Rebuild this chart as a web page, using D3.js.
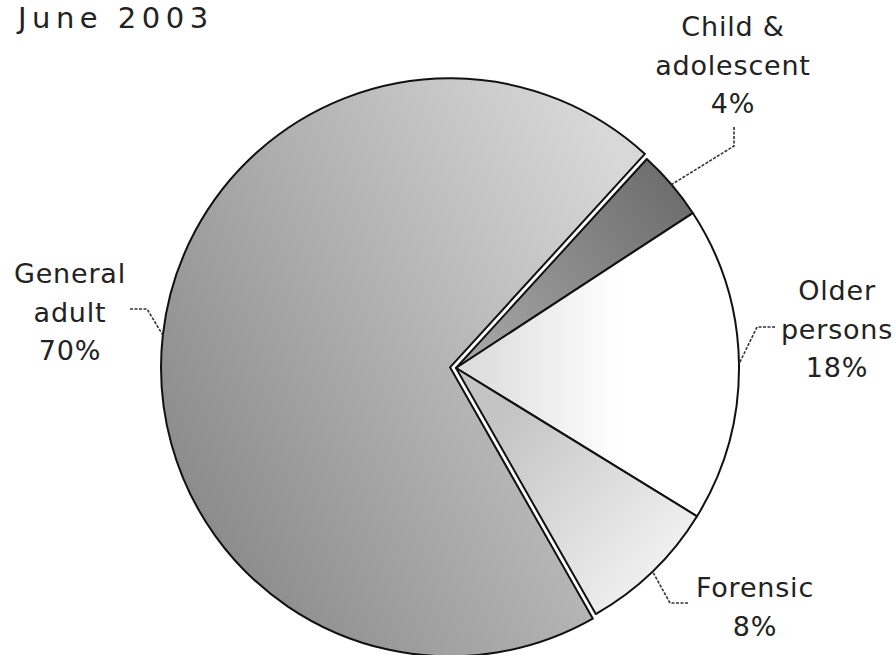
<!DOCTYPE html>
<html>
<head>
<meta charset="utf-8">
<script src="https://cdn.jsdelivr.net/npm/d3@7/dist/d3.min.js"></script>
<style>
  html, body { margin: 0; padding: 0; background: #fff; }
  svg { display: block; }
  text { font-family: "DejaVu Sans", "Liberation Sans", sans-serif; fill: #222; }
</style>
</head>
<body>
<svg id="chart" width="895" height="655"></svg>
<script>
// Staff distribution by speciality, June 2003
const categories = ["Child & adolescent", "Older persons", "Forensic", "General adult"];
const labelLines = [["Child &", "adolescent"], ["Older", "persons"], ["Forensic"], ["General", "adult"]];
const values = [4, 18, 8, 70];
const title = "June 2003";

const W = 895, H = 655;
const cx = 456, cy = 368;          // pie centre
const radius = 283;
const explodedRadius = 289;        // the large slice is pulled out a little
const explodeOffset = 6;

const svg = d3.select("#chart");

const pie = d3.pie()
  .sort(null)
  .value(d => d)
  .startAngle(42.4 * Math.PI / 180)
  .endAngle(42.4 * Math.PI / 180 + 2 * Math.PI);

const arcs = pie(values);

function sliceCentre(d, i) {
  if (i !== 3) return [cx, cy];
  const mid = (d.startAngle + d.endAngle) / 2;
  return [cx + explodeOffset * Math.sin(mid), cy - explodeOffset * Math.cos(mid)];
}

// gradient fills for each slice (page coordinates)
const fills = [
  { x1: 690, y1: 190, x2: 480, y2: 350, stops: ["#6c6c6c", "#a4a4a4"] },
  { x1: 480, y1: 368, x2: 620, y2: 368, stops: ["#dedede", "#ffffff"] },
  { x1: 500, y1: 420, x2: 690, y2: 580, stops: ["#c4c4c4", "#f6f6f6"] },
  { x1: 170, y1: 460, x2: 640, y2: 200, stops: ["#8c8c8c", "#d8d8d8"] }
];
const defs = svg.append("defs");
fills.forEach((f, i) => {
  const c = sliceCentre(arcs[i], i);
  const g = defs.append("linearGradient")
    .attr("id", "grad" + i)
    .attr("gradientUnits", "userSpaceOnUse")
    .attr("x1", f.x1 - c[0]).attr("y1", f.y1 - c[1])
    .attr("x2", f.x2 - c[0]).attr("y2", f.y2 - c[1]);
  g.append("stop").attr("offset", "0%").attr("stop-color", f.stops[0]);
  g.append("stop").attr("offset", "100%").attr("stop-color", f.stops[1]);
});

const arcNormal = d3.arc().innerRadius(0).outerRadius(radius);
const arcBig = d3.arc().innerRadius(0).outerRadius(explodedRadius);

svg.append("g").selectAll("path")
  .data(arcs)
  .join("path")
  .attr("transform", (d, i) => {
    const c = sliceCentre(d, i);
    return `translate(${c[0]},${c[1]})`;
  })
  .attr("d", (d, i) => (i === 3 ? arcBig(d) : arcNormal(d)))
  .attr("fill", (d, i) => `url(#grad${i})`)
  .attr("stroke", "#111")
  .attr("stroke-width", 2)
  .attr("stroke-linejoin", "round");

// label blocks: anchor point of the text block and the elbow of its leader line
const labelPos = [
  { x: 733, y: 36, elbow: [[734, 127], [734, 146]] },
  { x: 837, y: 300, elbow: [[775, 327], [757, 327]] },
  { x: 755, y: 597, elbow: [[688, 603], [670, 603]] },
  { x: 70, y: 283, elbow: [[130, 309], [147, 309]] }
];
const lineGap = 38.5;

arcs.forEach((d, i) => {
  const c = sliceCentre(d, i);
  const r = i === 3 ? explodedRadius : radius;
  const mid = (d.startAngle + d.endAngle) / 2;
  const edge = [c[0] + r * Math.sin(mid), c[1] - r * Math.cos(mid)];
  const p = labelPos[i];

  svg.append("path")
    .attr("d", d3.line()([p.elbow[0], p.elbow[1], edge]))
    .attr("fill", "none")
    .attr("stroke", "#333")
    .attr("stroke-width", 1.6)
    .attr("stroke-dasharray", "3,1.5");

  const lines = labelLines[i].concat([values[i] + "%"]);
  const t = svg.append("text")
    .attr("text-anchor", "middle")
    .attr("font-size", 27)
    .attr("letter-spacing", 0.8);
  lines.forEach((s, k) => {
    t.append("tspan").attr("x", p.x).attr("y", p.y + k * lineGap).text(s);
  });
});

svg.append("text")
  .attr("x", 18)
  .attr("y", 28)
  .attr("font-size", 29)
  .attr("letter-spacing", 5.5)
  .text(title);
</script>
</body>
</html>
